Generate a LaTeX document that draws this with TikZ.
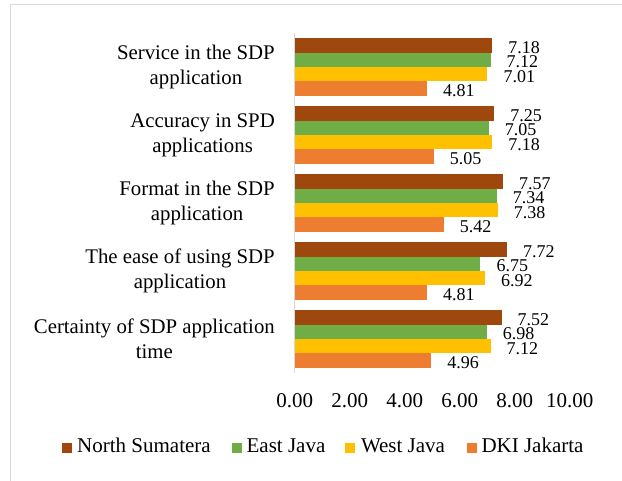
\documentclass[tikz,border=0pt]{standalone}
\usepackage{fontspec}
\setmainfont{Liberation Serif}
\usepackage{tikz}

\definecolor{nsbrown}{HTML}{9E480E}
\definecolor{ejgreen}{HTML}{70AD47}
\definecolor{wjyellow}{HTML}{FFC000}
\definecolor{dkiorange}{HTML}{ED7D31}
\definecolor{gridgray}{HTML}{D9D9D9}

\begin{document}
\begin{tikzpicture}[x=1pt,y=-1pt,
    every node/.style={inner sep=0pt},
    cat/.style={anchor=east, align=center, font=\fontsize{20.8}{25}\selectfont},
    val/.style={anchor=base west, xshift=16pt, font=\fontsize{18}{18}\selectfont},
    tick/.style={anchor=base, font=\fontsize{21}{21}\selectfont},
    leg/.style={anchor=base west, font=\fontsize{21}{21}\selectfont}]
  \useasboundingbox (0,0) rectangle (622,481);

  % Outer frame (only top and left edges show)
  \draw[gridgray, line width=1.5pt] (10.7,481) -- (10.7,4.3) -- (622,4.3);

  % Category labels
  \node[cat] (service) at (275,67) {Service in the SDP\\application};
  \node[cat] (accuracy) at (275,135) {Accuracy in SPD\\applications};
  \node[cat] (format) at (275,203) {Format in the SDP\\application};
  \node[cat] (ease) at (275,271) {The ease of using SDP\\application};
  \node[cat] (certainty) at (275,339) {Certainty of SDP application\\time};

  \begin{scope}[shift={(294.7,0)}, x=27.5pt]
  % Vertical axis
  \draw[gridgray, line width=1.2pt] (0,33) -- (0,373);

  % Service in the SDP application
  \fill[nsbrown] (0,38.2) rectangle (7.18,52.6);
  \fill[ejgreen] (0,52.6) rectangle (7.12,67.0);
  \fill[wjyellow] (0,67.0) rectangle (7.01,81.4);
  \fill[dkiorange] (0,81.4) rectangle (4.81,95.8);
  \node[val] (v11) at (7.18,53.4) {7.18};
  \node[val] (v12) at (7.12,67.8) {7.12};
  \node[val] (v13) at (7.01,82.2) {7.01};
  \node[val] (v14) at (4.81,96.6) {4.81};

  % Accuracy in SPD applications
  \fill[nsbrown] (0,106.2) rectangle (7.25,120.6);
  \fill[ejgreen] (0,120.6) rectangle (7.05,135.0);
  \fill[wjyellow] (0,135.0) rectangle (7.18,149.4);
  \fill[dkiorange] (0,149.4) rectangle (5.05,163.8);
  \node[val] (v21) at (7.25,121.4) {7.25};
  \node[val] (v22) at (7.05,135.8) {7.05};
  \node[val] (v23) at (7.18,150.2) {7.18};
  \node[val] (v24) at (5.05,164.6) {5.05};

  % Format in the SDP application
  \fill[nsbrown] (0,174.2) rectangle (7.57,188.6);
  \fill[ejgreen] (0,188.6) rectangle (7.34,203.0);
  \fill[wjyellow] (0,203.0) rectangle (7.38,217.4);
  \fill[dkiorange] (0,217.4) rectangle (5.42,231.8);
  \node[val] (v31) at (7.57,189.4) {7.57};
  \node[val] (v32) at (7.34,203.8) {7.34};
  \node[val] (v33) at (7.38,218.2) {7.38};
  \node[val] (v34) at (5.42,232.6) {5.42};

  % The ease of using SDP application
  \fill[nsbrown] (0,242.2) rectangle (7.72,256.6);
  \fill[ejgreen] (0,256.6) rectangle (6.75,271.0);
  \fill[wjyellow] (0,271.0) rectangle (6.92,285.4);
  \fill[dkiorange] (0,285.4) rectangle (4.81,299.8);
  \node[val] (v41) at (7.72,257.4) {7.72};
  \node[val] (v42) at (6.75,271.8) {6.75};
  \node[val] (v43) at (6.92,286.2) {6.92};
  \node[val] (v44) at (4.81,300.6) {4.81};

  % Certainty of SDP application time
  \fill[nsbrown] (0,310.2) rectangle (7.52,324.6);
  \fill[ejgreen] (0,324.6) rectangle (6.98,339.0);
  \fill[wjyellow] (0,339.0) rectangle (7.12,353.4);
  \fill[dkiorange] (0,353.4) rectangle (4.96,367.8);
  \node[val] (v51) at (7.52,325.4) {7.52};
  \node[val] (v52) at (6.98,339.8) {6.98};
  \node[val] (v53) at (7.12,354.2) {7.12};
  \node[val] (v54) at (4.96,368.6) {4.96};

  % Tick labels of the value axis
  \node[tick] (t0) at (0,407.3) {0.00};
  \node[tick] (t2) at (2,407.3) {2.00};
  \node[tick] (t4) at (4,407.3) {4.00};
  \node[tick] (t6) at (6,407.3) {6.00};
  \node[tick] (t8) at (8,407.3) {8.00};
  \node[tick] (t10) at (10,407.3) {10.00};
  \end{scope}

  % Legend
  \fill[nsbrown] (62,443) rectangle (72,453);
  \node[leg] (lns) at (77,453) {North Sumatera};
  \fill[ejgreen] (231.5,443) rectangle (241.5,453);
  \node[leg] (lej) at (246.4,453) {East Java};
  \fill[wjyellow] (345,443) rectangle (355,453);
  \node[leg] (lwj) at (360.8,453) {West Java};
  \fill[dkiorange] (466.5,443) rectangle (476.5,453);
  \node[leg] (ldki) at (481.3,453) {DKI Jakarta};
\end{tikzpicture}
\end{document}
